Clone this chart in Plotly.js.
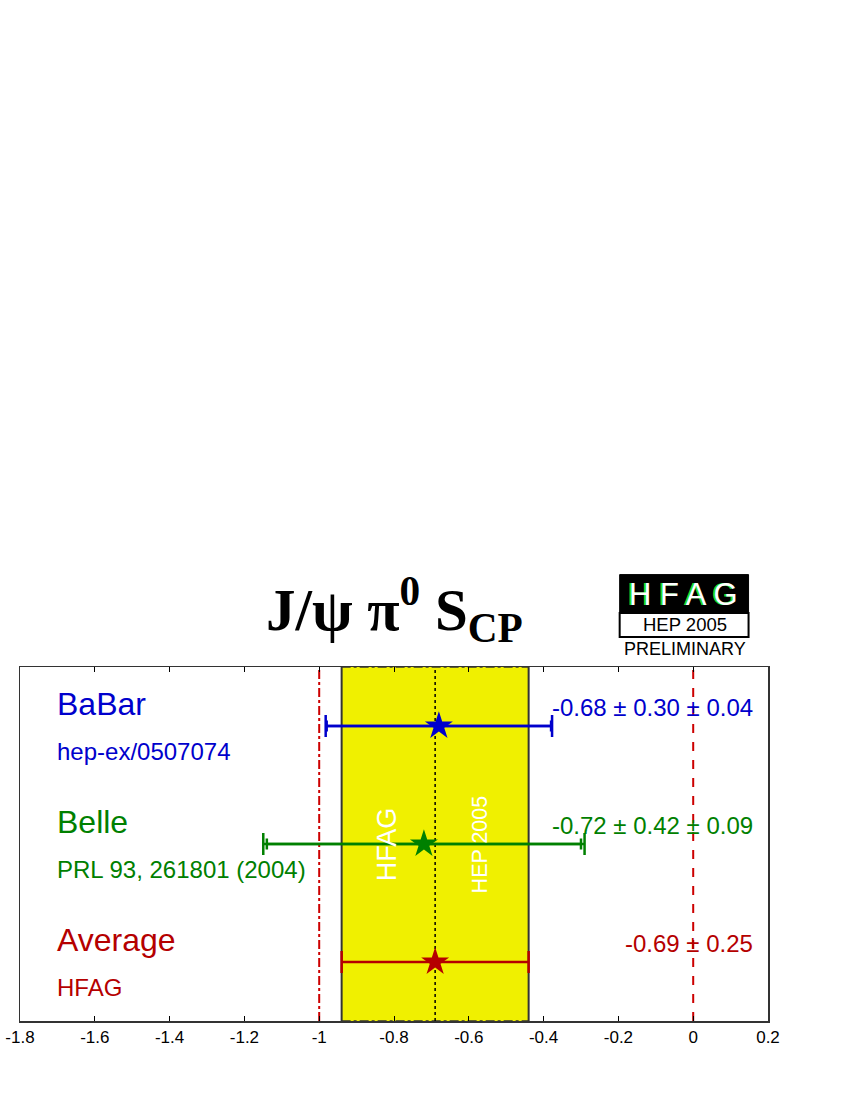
<!DOCTYPE html>
<html>
<head>
<meta charset="utf-8">
<script src="https://cdn.plot.ly/plotly-3.0.1.min.js"></script>
<style>
  html, body { margin: 0; padding: 0; background: #fff; }
  #chart { width: 850px; height: 1100px; }
</style>
</head>
<body>
<div id="chart"></div>
<script>
// J/psi pi0 S_CP — HFAG HEP 2005 summary
const experiments = ["BaBar", "Belle", "Average"];
const references = ["hep-ex/0507074", "PRL 93, 261801 (2004)", "HFAG"];
const centralValues = [-0.68, -0.72, -0.69];
const statErrors = [0.30, 0.42, 0.25];
const systErrors = [0.04, 0.09, null];
const referenceLines = [0, -1];
const tickValues = [-1.8, -1.6, -1.4, -1.2, -1, -0.8, -0.6, -0.4, -0.2, 0, 0.2];
const tickLabels = ["-1.8", "-1.6", "-1.4", "-1.2", "-1", "-0.8", "-0.6", "-0.4", "-0.2", "0", "0.2"];

const COLORS = ["#0000cc", "#008000", "#b50000"];
const FONT = "Liberation Sans, Arial, Helvetica, sans-serif";
const nRows = experiments.length;
const rowY = experiments.map((_, i) => nRows - i - 0.5);

const totalErr = (i) =>
  systErrors[i] == null ? statErrors[i] : Math.sqrt(statErrors[i] ** 2 + systErrors[i] ** 2);

const traces = [];
experiments.forEach((name, i) => {
  if (systErrors[i] != null) {
    // stat-only caps (short)
    traces.push({
      x: [centralValues[i]],
      y: [rowY[i]],
      type: "scatter",
      mode: "markers",
      marker: { size: 1, opacity: 0, color: COLORS[i] },
      error_x: { type: "data", array: [statErrors[i]], color: COLORS[i], thickness: 2.5, width: 5.5 },
      hoverinfo: "skip",
      showlegend: false,
    });
  }
  traces.push({
    x: [centralValues[i]],
    y: [rowY[i]],
    type: "scatter",
    mode: "markers",
    name,
    marker: { symbol: "star", size: 21, color: COLORS[i], line: { width: 0 } },
    error_x: { type: "data", array: [totalErr(i)], color: COLORS[i], thickness: 2.5, width: 11 },
    showlegend: false,
  });
});

const avgIdx = nRows - 1;
const bandLo = centralValues[avgIdx] - statErrors[avgIdx];
const bandHi = centralValues[avgIdx] + statErrors[avgIdx];

const shapes = [
  { type: "rect", layer: "below", x0: bandLo, x1: bandHi, y0: 0, y1: nRows, fillcolor: "#f0f000", line: { width: 0 } },
  { type: "line", layer: "below", x0: bandLo, x1: bandLo, y0: 0, y1: nRows, line: { color: "#333", width: 2 } },
  { type: "line", layer: "below", x0: bandHi, x1: bandHi, y0: 0, y1: nRows, line: { color: "#333", width: 2 } },
  { type: "line", layer: "below", x0: bandLo, x1: bandHi, y0: nRows, y1: nRows, line: { color: "#333", width: 1.5, dash: "dashdot" } },
  { type: "line", layer: "below", x0: bandLo, x1: bandHi, y0: 0, y1: 0, line: { color: "#333", width: 1.5, dash: "dashdot" } },
  { type: "line", layer: "below", x0: centralValues[avgIdx], x1: centralValues[avgIdx], y0: 0, y1: nRows, line: { color: "#000", width: 1.5, dash: "dot" } },
  { type: "line", layer: "below", x0: referenceLines[0], x1: referenceLines[0], y0: 0, y1: nRows, line: { color: "#cc0000", width: 2, dash: "dash" } },
  { type: "line", layer: "below", x0: referenceLines[1], x1: referenceLines[1], y0: 0, y1: nRows, line: { color: "#cc0000", width: 2, dash: "dashdot" } },
  // HFAG logo
  { type: "rect", xref: "paper", yref: "paper", x0: 0.8017, x1: 0.974, y0: 1.1525, y1: 1.261, fillcolor: "#000", line: { color: "#000", width: 1 } },
  { type: "rect", xref: "paper", yref: "paper", x0: 0.8017, x1: 0.974, y0: 1.0847, y1: 1.1525, fillcolor: "#fff", line: { color: "#000", width: 2 } },
];

const annotations = [];
experiments.forEach((name, i) => {
  annotations.push({
    x: -1.697, y: rowY[i] + 0.19, xanchor: "left", yanchor: "middle", xshift: -4, showarrow: false,
    text: name, font: { family: FONT, size: 32, color: COLORS[i] },
  });
  annotations.push({
    x: -1.697, y: rowY[i] - 0.22, xanchor: "left", yanchor: "middle", xshift: -4, showarrow: false,
    text: references[i], font: { family: FONT, size: 24, color: COLORS[i] },
  });
  let txt = centralValues[i].toFixed(2) + " ± " + statErrors[i].toFixed(2);
  if (systErrors[i] != null) txt += " ± " + systErrors[i].toFixed(2);
  annotations.push({
    x: 0.159, y: rowY[i] + 0.16, xanchor: "right", yanchor: "middle", xshift: 2, showarrow: false,
    text: txt, font: { family: FONT, size: 24, color: COLORS[i] },
  });
});

annotations.push(
  { x: -0.818, y: 1.5, textangle: -90, showarrow: false, text: "HFAG",
    font: { family: FONT, size: 27, color: "#fff" } },
  { x: -0.569, y: 1.5, textangle: -90, showarrow: false, text: "HEP 2005",
    font: { family: FONT, size: 21.5, color: "#fff" } },
  // title
  { xref: "paper", yref: "paper", x: 0.5, y: 1.04, xanchor: "center", yanchor: "bottom", showarrow: false,
    text: "J/ψ π<sup>0</sup> S<sub>CP</sub>",
    font: { family: "Liberation Serif, Times New Roman, serif", size: 59, color: "#000", weight: "bold" } },
  // logo text
  { xref: "paper", yref: "paper", x: 0.8865, y: 1.2045, xanchor: "center", yanchor: "middle", xshift: -2,
    showarrow: false, text: "H F A G", font: { family: FONT, size: 31, color: "#22dd22" } },
  { xref: "paper", yref: "paper", x: 0.8865, y: 1.2045, xanchor: "center", yanchor: "middle",
    showarrow: false, text: "H F A G", font: { family: FONT, size: 31, color: "#fff" } },
  { xref: "paper", yref: "paper", x: 0.889, y: 1.119, xanchor: "center", yanchor: "middle",
    showarrow: false, text: "HEP 2005", font: { family: FONT, size: 18.5, color: "#000" } },
  { xref: "paper", yref: "paper", x: 0.889, y: 1.052, xanchor: "center", yanchor: "middle",
    showarrow: false, text: "PRELIMINARY", font: { family: FONT, size: 18, color: "#000" } }
);

const layout = {
  width: 850,
  height: 1100,
  margin: { l: 19.5, r: 82.3, t: 666.7, b: 79.3 },
  paper_bgcolor: "#fff",
  plot_bgcolor: "#fff",
  showlegend: false,
  xaxis: {
    range: [-1.8, 0.2],
    tickvals: tickValues,
    ticktext: tickLabels,
    ticks: "inside",
    ticklen: 5,
    tickcolor: "#000",
    showline: true,
    linecolor: "#333",
    linewidth: 1.5,
    mirror: "ticks",
    showgrid: false,
    zeroline: false,
    tickfont: { family: FONT, size: 17, color: "#000" },
    fixedrange: true,
  },
  yaxis: {
    range: [0, nRows],
    showticklabels: false,
    ticks: "",
    showline: true,
    linecolor: "#333",
    linewidth: 1.5,
    mirror: true,
    showgrid: false,
    zeroline: false,
    fixedrange: true,
  },
  shapes,
  annotations,
};

Plotly.newPlot("chart", traces, layout, { displayModeBar: false, staticPlot: true });
</script>
</body>
</html>
